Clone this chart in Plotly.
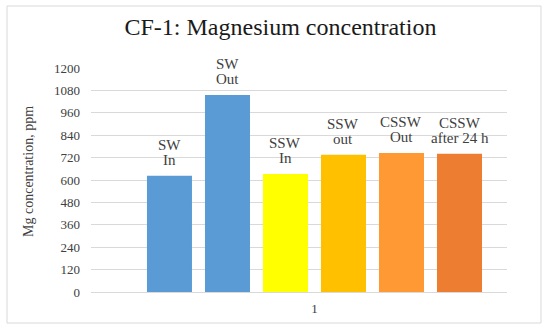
import plotly.graph_objects as go

label_top = ["SW", "SW", "SSW", "SSW", "CSSW", "CSSW"]
label_bottom = ["In", "Out", "In", "out", "Out", "after 24 h"]
values = [623, 1055, 632, 735, 745, 741]
colors = ["#5B9BD5", "#5B9BD5", "#FFFF00", "#FFC000", "#FF9933", "#ED7D31"]
positions = [0, 1, 2, 3, 4, 5]
y_ticks = [0, 120, 240, 360, 480, 600, 720, 840, 960, 1080, 1200]
group_label = "1"
y_title = "Mg concentration, ppm"
chart_title = "CF-1: Magnesium concentration"

font_family = "Liberation Serif"
label_font = dict(family=font_family, size=15, color="#404040")

fig = go.Figure()
fig.add_trace(go.Bar(
    x=positions, y=values,
    marker=dict(color=colors, line=dict(width=0)),
    width=0.776,
    hoverinfo="skip",
))

annotations = []
for xp, v, top, bot in zip(positions, values, label_top, label_bottom):
    annotations.append(dict(x=xp, y=v, xref="x", yref="y", text=bot, showarrow=False,
                            xanchor="center", yanchor="bottom", yshift=6, font=label_font))
    annotations.append(dict(x=xp, y=v, xref="x", yref="y", text=top, showarrow=False,
                            xanchor="center", yanchor="bottom", yshift=21, font=label_font))
annotations.append(dict(text=y_title, xref="paper", yref="paper",
                        x=(28-91)/416, y=(292-172)/224, textangle=-90,
                        showarrow=False, xanchor="center", yanchor="middle",
                        font=dict(family=font_family, size=14, color="#404040")))

fig.update_layout(
    width=550, height=332,
    margin=dict(l=91, r=43, t=68, b=40),
    paper_bgcolor="white", plot_bgcolor="white",
    showlegend=False,
    font=dict(family=font_family, color="#404040"),
    title=dict(text=chart_title, x=0.51, xanchor="center",
               y=0.92, yanchor="middle",
               font=dict(family=font_family, size=24, color="#1a1a1a")),
    xaxis=dict(range=[-1.353, 5.819], tickvals=[2.5], ticktext=[group_label],
               showgrid=False, zeroline=False, showline=True, linecolor="#D9D9D9",
               ticks="", automargin=False, ticklabelstandoff=4,
               tickfont=dict(family=font_family, size=13, color="#404040")),
    yaxis=dict(range=[0, 1200], tickvals=y_ticks, showgrid=True, gridcolor="#D9D9D9",
               zeroline=False, showline=False, ticks="", automargin=False,
               ticklabelstandoff=10,
               tickfont=dict(family=font_family, size=13, color="#404040")),
    annotations=annotations,
    shapes=[dict(type="rect", xref="paper", yref="paper",
                 x0=-84/416, x1=(541-91)/416, y0=-(323-292)/224, y1=(292-6)/224,
                 line=dict(color="#D9D9D9", width=1), fillcolor="rgba(0,0,0,0)",
                 layer="below")],
)

fig.write_html("out.html", config={"displayModeBar": False},
               post_script="document.body.style.margin='0';")
